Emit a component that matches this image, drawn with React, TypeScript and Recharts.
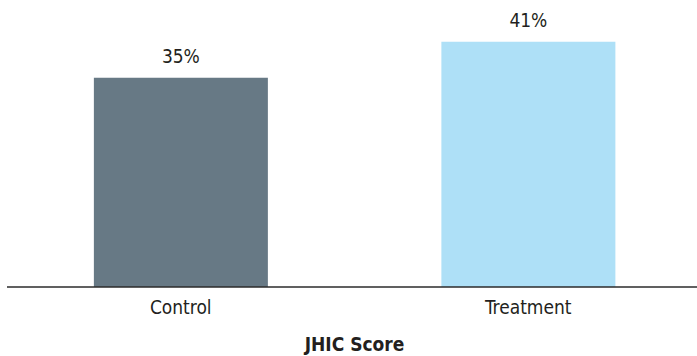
import React from "react";
import { BarChart, Bar, XAxis, YAxis, Cell, LabelList } from "recharts";

const groups = ["Control", "Treatment"];
const scores = [35, 41];
const barColors = ["#677985", "#aee0f7"];

const data = groups.map((name, i) => ({ name, score: scores[i] }));

const font = "'Liberation Sans Narrow', 'DejaVu Sans Condensed', 'Arial Narrow', sans-serif";

export default function App() {
  return (
    <div
      style={{
        position: "absolute",
        left: 0,
        top: 0,
        width: 697,
        height: 356,
        overflow: "hidden",
        background: "#fff",
      }}
    >
      <BarChart
        width={703}
        height={356}
        data={data}
        margin={{ top: 0, right: 1, left: 7, bottom: 0 }}
        barCategoryGap="25%"
      >
        <YAxis hide domain={[0, 48]} />
        <XAxis
          dataKey="name"
          height={69}
          tickLine={false}
          tickSize={0}
          tickMargin={14}
          axisLine={{ stroke: "#2b2b2b", strokeWidth: 1.3 }}
          tick={{ fill: "#231f20", fontSize: 19, fontFamily: font }}
          label={{
            value: "JHIC Score",
            position: "insideBottom",
            offset: 5,
            fill: "#231f20",
            fontSize: 19,
            fontWeight: "bold",
            fontFamily: font,
          }}
        />
        <Bar dataKey="score" isAnimationActive={false}>
          {data.map((d, i) => (
            <Cell key={d.name} fill={barColors[i]} />
          ))}
          <LabelList
            dataKey="score"
            position="top"
            offset={15}
            formatter={(v: number) => `${v}%`}
            style={{ fill: "#231f20", fontSize: 19, fontFamily: font }}
          />
        </Bar>
      </BarChart>
    </div>
  );
}
